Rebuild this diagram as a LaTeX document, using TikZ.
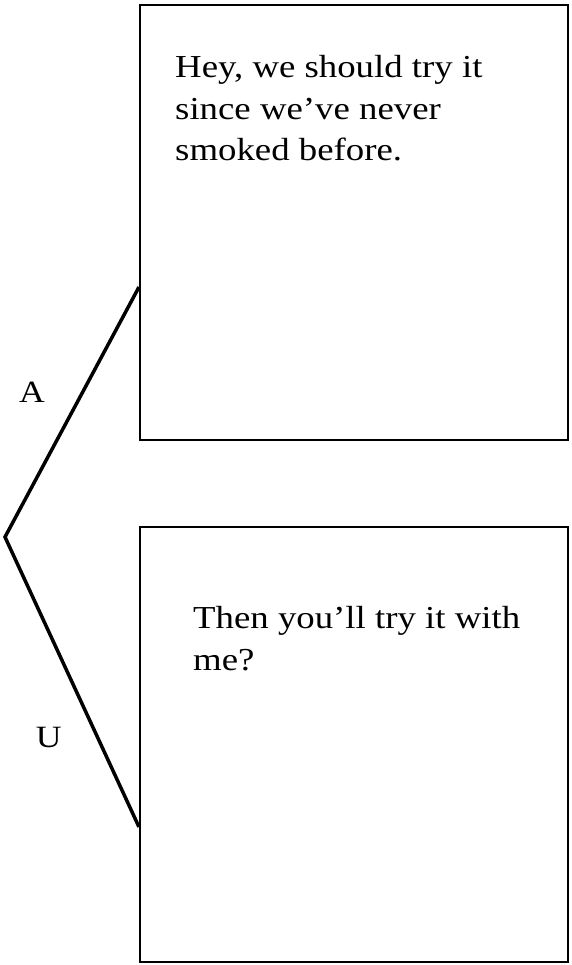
\documentclass[tikz,border=0pt]{standalone}
\usepackage{fontspec}
\setmainfont[FakeStretch=1.15]{Liberation Serif}
\usetikzlibrary{positioning}

\begin{document}
\begin{tikzpicture}[x=1pt,y=-1pt]
\tikzstyle{panel}=[draw,line width=1.9pt,minimum width=428pt,minimum height=435pt,inner sep=0pt,anchor=north west]
\tikzstyle{speech}=[font=\fontsize{32}{41.5}\selectfont,align=left,inner sep=0pt]
\tikzstyle{branch}=[line width=3.5pt,line join=miter]
\tikzstyle{tag}=[font=\fontsize{31}{36}\selectfont,inner sep=0pt]
\useasboundingbox (0,0) rectangle (571,965);
\node[panel] (p1) at (139,4) {};
\node[panel] (p2) at (139,526) {};
\node[speech,below right=51.5pt and 36pt of p1.north west] (s1) {Hey, we should try it\\since we’ve never\\smoked before.};
\node[speech,below right=80.5pt and 54pt of p2.north west] (s2) {Then you’ll try it with\\me?};
\coordinate (v) at (5,537);
\coordinate (ta) at (139,287);
\coordinate (tb) at (139,827);
\draw[branch] (ta) -- node[tag,pos=0.42,left=36pt] (la) {A} (v) -- node[tag,pos=0.69,left=34pt] (lu) {U} (tb);
\end{tikzpicture}
\end{document}
